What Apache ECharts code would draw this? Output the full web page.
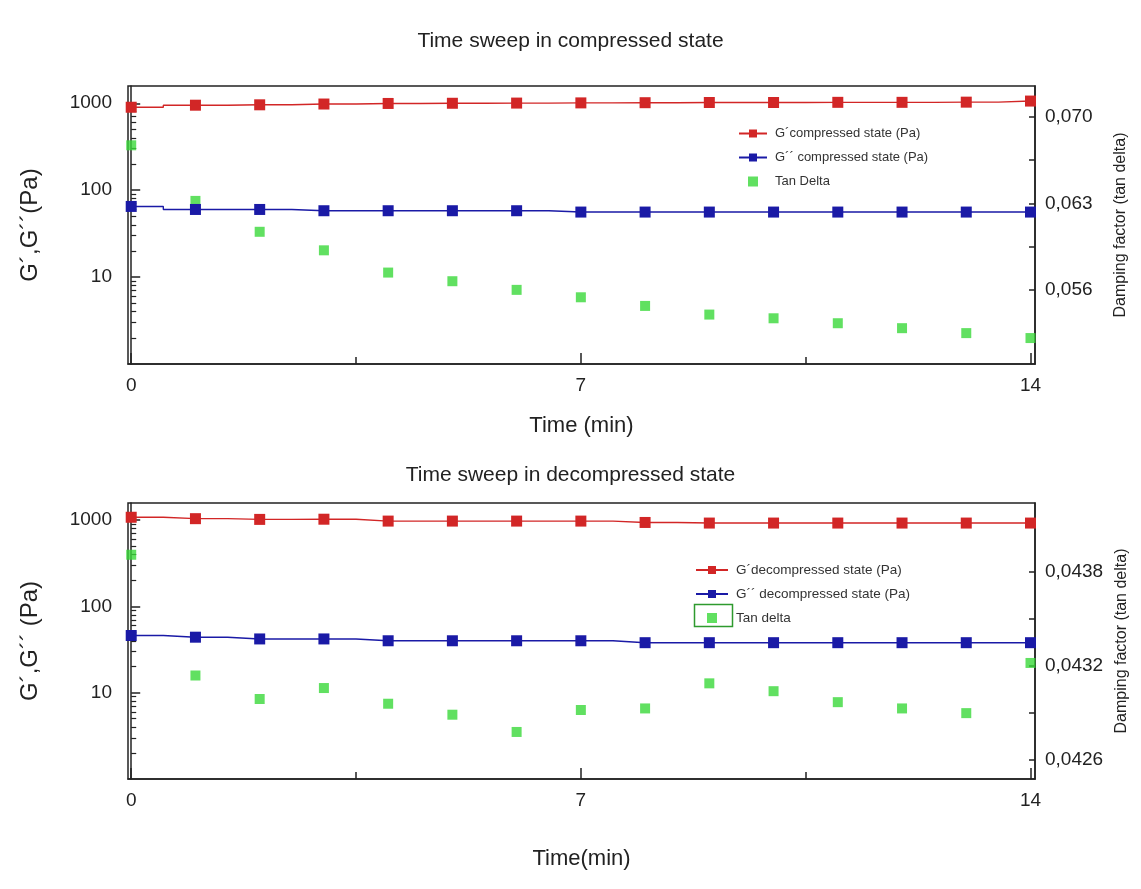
<!DOCTYPE html>
<html><head><meta charset="utf-8">
<script src="https://cdn.jsdelivr.net/npm/echarts@6/dist/echarts.min.js"></script>
<style>html,body{margin:0;padding:0;background:#fff}#c{width:1141px;height:889px}</style>
</head><body><div id="c"></div>
<script>
// ---- data ----
const time = [0,1,2,3,4,5,6,7,8,9,10,11,12,13,14];
const gPrimeComp   = [900, 950, 960, 980, 995, 1000, 1005, 1010, 1015, 1020, 1020, 1025, 1025, 1030, 1060];
const gDoubleComp  = [65, 60, 60, 58, 58, 58, 58, 56, 56, 56, 56, 56, 56, 56, 56];
const tanDeltaComp = [0.0677, 0.0632, 0.0607, 0.0592, 0.0574, 0.0567, 0.0560, 0.0554, 0.0547, 0.0540, 0.0537, 0.0533, 0.0529, 0.0525, 0.0521];
const gPrimeDecomp   = [1080, 1040, 1020, 1025, 975, 975, 975, 975, 940, 925, 925, 925, 925, 925, 925];
const gDoubleDecomp  = [46, 44, 42, 42, 40, 40, 40, 40, 38, 38, 38, 38, 38, 38, 38];
const tanDeltaDecomp = [0.04391, 0.04314, 0.04299, 0.04306, 0.04296, 0.04289, 0.04278, 0.04292, 0.04293, 0.04309, 0.04304, 0.04297, 0.04293, 0.04290, 0.04322];

// ---- tick labels / tick positions ----
const xLabelValues = [0, 7, 14];
const xMinorTicks = [3.5, 10.5];
const logLabelValues = [10, 100, 1000];
const logMinorTicks = [2,3,4,5,6,7,8,9,20,30,40,50,60,70,80,90,200,300,400,500,600,700,800,900];
const rightTopLabels = [0.056, 0.063, 0.070];
const rightTopTicks = [0.056, 0.0595, 0.063, 0.0665, 0.070];
const rightBotLabels = [0.0426, 0.0432, 0.0438];
const rightBotTicks = [0.0426, 0.0429, 0.0432, 0.0435, 0.0438];

const names = {
  gpc: 'G\u00B4compressed state (Pa)',
  gdc: 'G\u00B4\u00B4 compressed state (Pa)',
  tdc: 'Tan Delta',
  gpd: 'G\u00B4decompressed state (Pa)',
  gdd: 'G\u00B4\u00B4 decompressed state (Pa)',
  tdd: 'Tan delta'
};

const pair = arr => arr.map((v, i) => [time[i], v]);
const FONT = '"Liberation Sans", Arial, sans-serif';
const RED = '#d22626', BLUE = '#1a1aa6', GREEN = '#3ad83a', AX = '#222';
const SQUARE = 'path://M0,0h10v10h-10z';

function xAxes(gridIndex, name, nameGap) {
  return [{
    gridIndex, type: 'value', min: -0.05, max: 14.07, position: 'bottom', offset: 0,
    name, nameLocation: 'middle', nameGap,
    nameTextStyle: { fontFamily: FONT, fontSize: 22, color: '#222' },
    axisLine: { show: true, lineStyle: { color: AX, width: 1.5 } },
    axisTick: { show: true, inside: true, length: 11, customValues: xLabelValues, lineStyle: { color: AX, width: 1.5 } },
    axisLabel: { customValues: xLabelValues, margin: 12, fontFamily: FONT, fontSize: 19, color: '#222' },
    splitLine: { show: false }
  }, {
    gridIndex, type: 'value', min: -0.05, max: 14.07, position: 'bottom', offset: 0,
    axisLine: { show: false },
    axisTick: { show: true, inside: true, length: 7, customValues: xMinorTicks, lineStyle: { color: AX, width: 1.5 } },
    axisLabel: { show: false }, splitLine: { show: false }
  }];
}

function yAxes(gridIndex, leftName, rMin, rMax, rLabels, rTicks, digits) {
  return [{
    gridIndex, type: 'log', logBase: 10, min: 1, max: 1580, position: 'left', offset: 0,
    name: leftName, nameLocation: 'middle', nameGap: 86,
    nameTextStyle: { fontFamily: FONT, fontSize: 24, color: '#222' },
    axisLine: { show: true, lineStyle: { color: AX, width: 1.5 } },
    axisTick: { show: true, inside: true, length: 9, customValues: logLabelValues, lineStyle: { color: AX, width: 1.5 } },
    axisLabel: { customValues: logLabelValues, margin: 16, fontFamily: FONT, fontSize: 19, color: '#222',
      formatter: v => String(Math.round(v)) },
    splitLine: { show: false }
  }, {
    gridIndex, type: 'log', logBase: 10, min: 1, max: 1580, position: 'left', offset: 0,
    axisLine: { show: false },
    axisTick: { show: true, inside: true, length: 5, customValues: logMinorTicks, lineStyle: { color: AX, width: 1.2 } },
    axisLabel: { show: false }, splitLine: { show: false }
  }, {
    gridIndex, type: 'value', min: rMin, max: rMax, position: 'right', offset: 0,
    name: 'Damping factor (tan delta)', nameLocation: 'middle', nameGap: 78, nameRotate: 90,
    nameTextStyle: { fontFamily: FONT, fontSize: 16, color: '#222' },
    axisLine: { show: true, lineStyle: { color: AX, width: 1.5 } },
    axisTick: { show: true, inside: true, length: 6, customValues: rTicks, lineStyle: { color: AX, width: 1.5 } },
    axisLabel: { customValues: rLabels, margin: 10, fontFamily: FONT, fontSize: 19, color: '#222',
      formatter: v => v.toFixed(digits).replace('.', ',') },
    splitLine: { show: false }
  }];
}

function lineSeries(name, data, color, xi, yi) {
  return { name, type: 'line', xAxisIndex: xi, yAxisIndex: yi, data: pair(data), step: 'middle',
    symbol: 'rect', symbolSize: 11, showSymbol: true, color,
    itemStyle: { color }, lineStyle: { color, width: 1.4 }, z: 3 };
}
function scatterSeries(name, data, xi, yi) {
  return { name, type: 'scatter', xAxisIndex: xi, yAxisIndex: yi, data: pair(data),
    symbol: 'rect', symbolSize: 10, color: GREEN, itemStyle: { color: GREEN }, z: 2 };
}

const legendText = { fontFamily: FONT, fontSize: 13.5, color: '#333', padding: [0, 0, 0, 3] };

const option = {
  backgroundColor: '#fff',
  animation: false,
  title: [
    { text: 'Time sweep in compressed state', left: 'center', top: 31, padding: [0, 0, 0, 16],
      textStyle: { fontFamily: FONT, fontSize: 21, fontWeight: 'normal', color: '#222' } },
    { text: 'Time sweep in decompressed state', left: 'center', top: 465, padding: [0, 0, 0, 16],
      textStyle: { fontFamily: FONT, fontSize: 21, fontWeight: 'normal', color: '#222' } }
  ],
  grid: [
    { left: 128, right: 106, top: 86, height: 278, show: true, borderColor: AX, borderWidth: 1.5, backgroundColor: 'transparent' },
    { left: 128, right: 106, top: 503, height: 276, show: true, borderColor: AX, borderWidth: 1.5, backgroundColor: 'transparent' }
  ],
  xAxis: [...xAxes(0, 'Time (min)', 51), ...xAxes(1, 'Time(min)', 69)],
  yAxis: [
    ...yAxes(0, 'G\u00B4,G\u00B4\u00B4(Pa)', 0.0500, 0.0725, rightTopLabels, rightTopTicks, 3),
    ...yAxes(1, 'G\u00B4,G\u00B4\u00B4 (Pa)', 0.04248, 0.04424, rightBotLabels, rightBotTicks, 4)
  ],
  legend: [
    { orient: 'vertical', left: 733, top: 122, itemWidth: 28, itemHeight: 10, itemGap: 11,
      textStyle: Object.assign({}, legendText, { fontSize: 13 }),
      data: [names.gpc, names.gdc, { name: names.tdc, icon: SQUARE }] },
    { orient: 'vertical', left: 690, top: 558, itemWidth: 32, itemHeight: 10, itemGap: 10,
      textStyle: legendText,
      data: [names.gpd, names.gdd, { name: names.tdd, icon: SQUARE }] }
  ],
  graphic: [
    { type: 'rect', left: 692, top: 602, shape: { width: 38, height: 22 },
      style: { fill: 'none', stroke: '#2e9a2e', lineWidth: 1.5 }, silent: true }
  ],
  series: [
    lineSeries(names.gpc, gPrimeComp, RED, 0, 0),
    lineSeries(names.gdc, gDoubleComp, BLUE, 0, 0),
    scatterSeries(names.tdc, tanDeltaComp, 0, 2),
    lineSeries(names.gpd, gPrimeDecomp, RED, 2, 3),
    lineSeries(names.gdd, gDoubleDecomp, BLUE, 2, 3),
    scatterSeries(names.tdd, tanDeltaDecomp, 2, 5)
  ]
};

const chart = echarts.init(document.getElementById('c'), null, { renderer: 'canvas' });
chart.setOption(option);
</script>
</body></html>
